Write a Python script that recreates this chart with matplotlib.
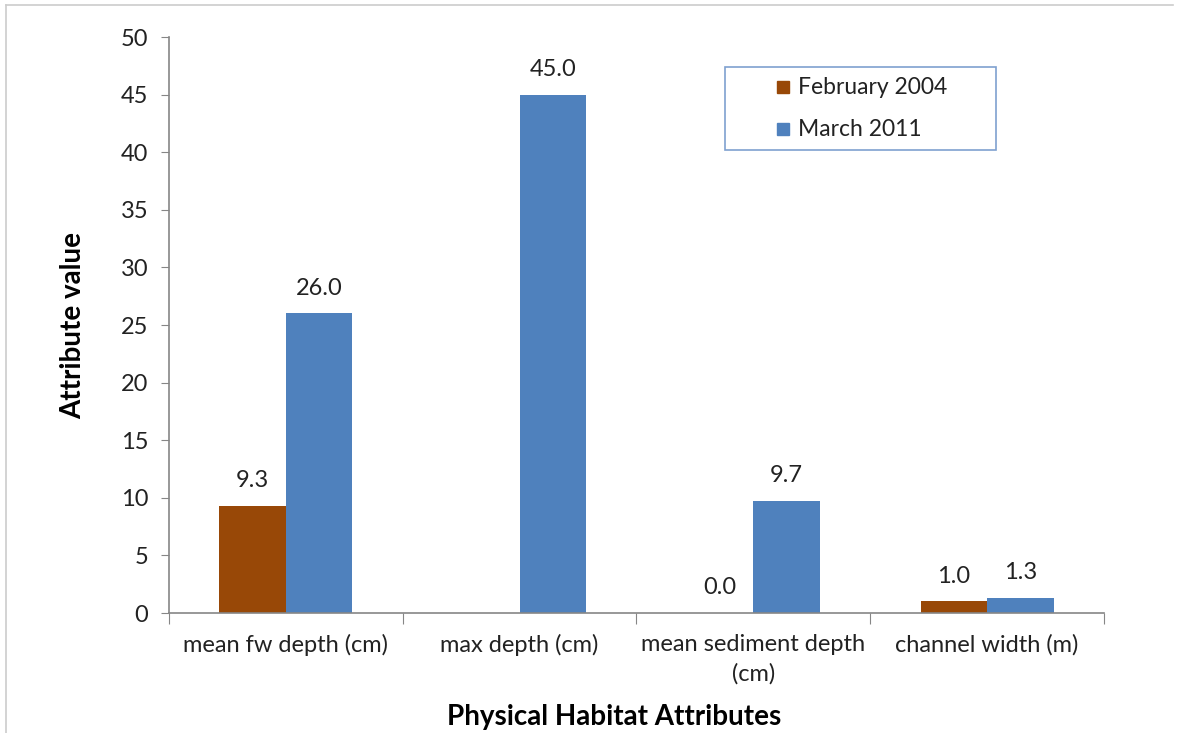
import numpy as np
import matplotlib
matplotlib.use("Agg")
import matplotlib.pyplot as plt
from matplotlib.lines import Line2D
from matplotlib.patches import Rectangle

# data
categories = ["mean fw depth (cm)", "max depth (cm)", "mean sediment depth\n(cm)", "channel width (m)"]
feb_2004 = [9.3, np.nan, 0.0, 1.0]
mar_2011 = [26.0, 45.0, 9.7, 1.3]
series_names = ["February 2004", "March 2011"]
yticks = [0, 5, 10, 15, 20, 25, 30, 35, 40, 45, 50]

feb_color = "#984807"
mar_color = "#4F81BD"
axis_gray = "#868686"

plt.rcParams["font.family"] = ["Lato", "DejaVu Sans"]

fig = plt.figure(figsize=(11.79, 7.33), dpi=100)
ax = fig.add_axes([0.1433, 0.1637, 0.7931, 0.7858])

x = np.arange(len(categories))
w = 0.285
b1 = ax.bar(x - w / 2, feb_2004, w, color=feb_color, label=series_names[0])
b2 = ax.bar(x + w / 2, mar_2011, w, color=mar_color, label=series_names[1])

# value labels
for bars, vals in ((b1, feb_2004), (b2, mar_2011)):
    for rect, v in zip(bars, vals):
        if np.isnan(v):
            continue
        ax.text(rect.get_x() + rect.get_width() / 2, v + 1.3, f"{v:.1f}",
                ha="center", va="bottom", fontsize=17, color="#222222")

ax.set_xlim(-0.5, len(categories) - 0.5)
ax.set_ylim(0, 50)
ax.set_yticks(yticks)
ax.tick_params(axis="y", labelsize=17, length=6, color=axis_gray, pad=9, labelcolor="#222222")

# category labels between boundary ticks
ax.set_xticks(np.arange(len(categories) + 1) - 0.5)
ax.set_xticklabels([])
ax.tick_params(axis="x", length=8, color=axis_gray)
for i, c in enumerate(categories):
    ax.text(i, -1.8, c, ha="center", va="top", fontsize=17, color="#222222",
            linespacing=1.5)

for s in ("top", "right"):
    ax.spines[s].set_visible(False)
for s in ("left", "bottom"):
    ax.spines[s].set_color(axis_gray)
    ax.spines[s].set_linewidth(1.2)

fig.text(0.521, 0.0218, "Physical Habitat Attributes", ha="center", va="center",
         fontsize=20, fontweight="bold")
fig.text(0.062, 0.5566, "Attribute value", ha="center", va="center", rotation=90,
         fontsize=20, fontweight="bold")

# legend box drawn by hand (wide padding like the original)
fig.add_artist(Rectangle((0.6149, 0.7954), 0.2299, 0.1132, transform=fig.transFigure,
                         facecolor="white", edgecolor="#7FA1CF", lw=1.2))
leg_y = [0.8813, 0.8240]
for name, col, yy in zip(series_names, [feb_color, mar_color], leg_y):
    fig.add_artist(Line2D([0.6645], [yy], marker="s", markersize=9, color=col,
                          linestyle="none", transform=fig.transFigure))
    fig.text(0.6765, yy, name, ha="left", va="center", fontsize=16.5, color="#222222")

# figure border (top and left visible)
fig.add_artist(Line2D([0.005, 0.995], [0.993, 0.993], color="#cccccc", lw=1.2,
                      transform=fig.transFigure))
fig.add_artist(Line2D([0.005, 0.005], [0.0, 0.993], color="#cccccc", lw=1.2,
                      transform=fig.transFigure))

fig.savefig("out.png", dpi=100)
